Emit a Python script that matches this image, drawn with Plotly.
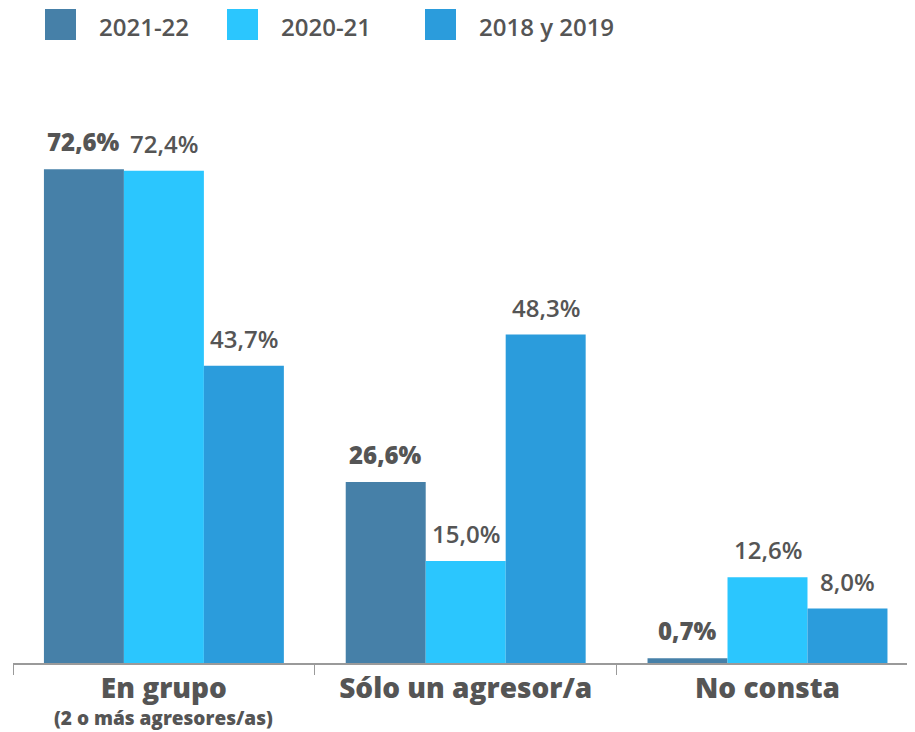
import plotly.graph_objects as go

categories = ["En grupo", "Sólo un agresor/a", "No consta"]
subtitle = "(2 o más agresores/as)"
series_names = ["2021-22", "2020-21", "2018 y 2019"]
v_2021_22 = [72.6, 26.6, 0.7]
v_2020_21 = [72.4, 15.0, 12.6]
v_2018_19 = [43.7, 48.3, 8.0]
colors = ["#4680A8", "#2BC6FE", "#2B9CDC"]

# page body has an 8px margin: work in reference pixels, shifted by OFF
OFF = 8
W, H = 915 - OFF, 732 - OFF
BASE_Y = 663 - OFF
LEFT_X = 13 - OFF
ML, MR = LEFT_X, 0
MB = H - BASE_Y
MT = 119 - OFF
PW, PH = W - ML - MR, H - MT - MB
cat_w = 301.8
xr = [-0.5, -0.5 + PW / cat_w]
yr = [0, 80]

FONT = "Open Sans"
TXT = "#555555"

def fmt(v):
    return f"{v:.1f}%".replace(".", ",")

def px2paper_x(px):
    return (px - OFF - ML) / PW

def px2paper_y(py):
    return (BASE_Y - (py - OFF)) / PH

fig = go.Figure()
all_vals = [v_2021_22, v_2020_21, v_2018_19]
for name, vals, col in zip(series_names, all_vals, colors):
    fig.add_trace(go.Bar(x=categories, y=vals, name=name, marker=dict(color=col, line=dict(width=0)),
                         showlegend=False, hoverinfo="x+y+name"))

bar_px = cat_w * (1 - 0.205) / 3
annotations = []
for si, vals in enumerate(all_vals):
    for ci, v in enumerate(vals):
        annotations.append(dict(
            x=categories[ci], y=v, xref="x", yref="y", text=fmt(v), showarrow=False,
            xshift=(si - 1) * bar_px, yshift=9, yanchor="bottom", xanchor="center",
            font=dict(family=FONT, size=24, color=TXT, weight=(800 if si == 0 else 600)),
        ))

annotations.append(dict(
    x=categories[0], y=px2paper_y(718), xref="x", yref="paper", text=subtitle, showarrow=False,
    yanchor="middle", xanchor="center", borderpad=0,
    font=dict(family=FONT, size=19, color=TXT, weight=800),
))

shapes = []
sq_x = [45, 227, 425]
txt_x = [97, 279, 477]
for name, col, sx, tx in zip(series_names, colors, sq_x, txt_x):
    shapes.append(dict(type="rect", xref="paper", yref="paper",
                       x0=px2paper_x(sx), x1=px2paper_x(sx + 31),
                       y0=px2paper_y(40), y1=px2paper_y(9),
                       fillcolor=col, line=dict(width=0)))
    annotations.append(dict(x=px2paper_x(tx), y=px2paper_y(26), xref="paper", yref="paper",
                            text=name, showarrow=False, xanchor="left", yanchor="middle",
                            font=dict(family=FONT, size=24, color=TXT, weight=600)))

fig.update_layout(
    width=W, height=H,
    margin=dict(l=ML, r=MR, t=MT, b=MB, pad=0),
    paper_bgcolor="white", plot_bgcolor="white",
    barmode="group", bargap=0.205, bargroupgap=0,
    showlegend=False,
    font=dict(family=FONT, color=TXT),
    xaxis=dict(range=xr, showline=True, linecolor="#9a9a9a", linewidth=1.5,
               ticks="outside", tickson="boundaries", ticklen=10, tickcolor="#9a9a9a", tickwidth=1,
               tickvals=categories, ticktext=categories, ticklabelstandoff=0,
               tickfont=dict(family=FONT, size=28, color=TXT, weight=800),
               showgrid=False, zeroline=False, fixedrange=True),
    yaxis=dict(range=yr, visible=False, showgrid=False, zeroline=False, fixedrange=True),
    annotations=annotations, shapes=shapes,
)

fig.write_html("out.html")
